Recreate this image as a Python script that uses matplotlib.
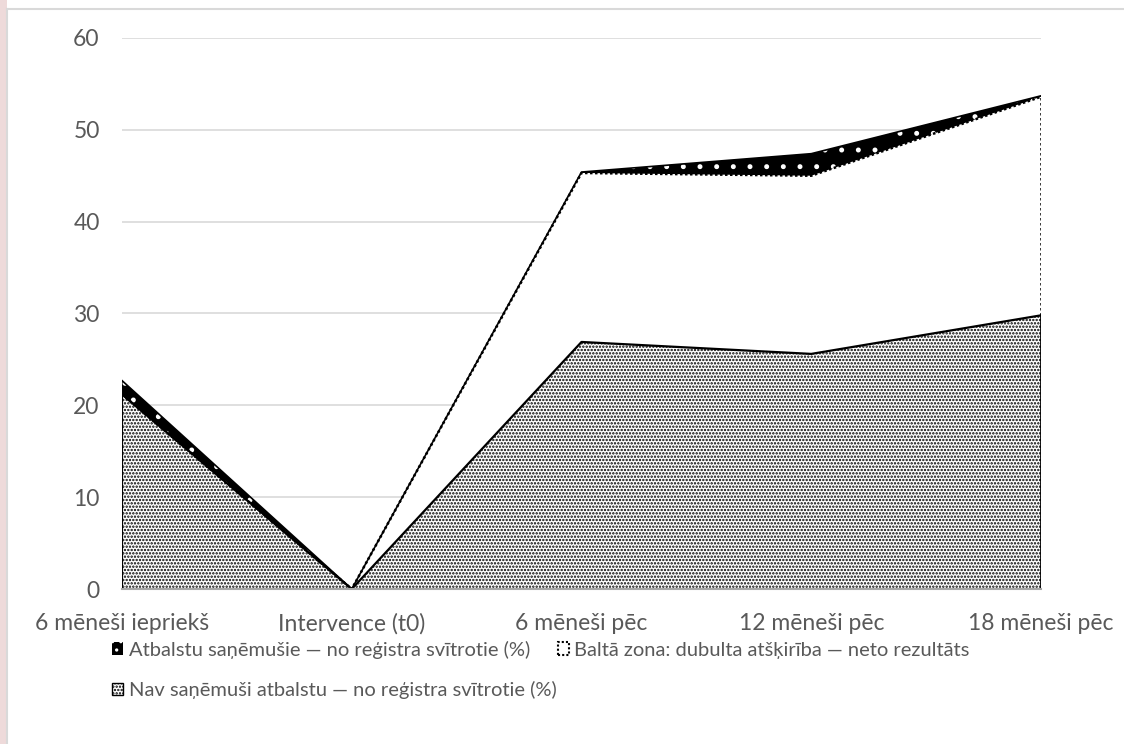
import matplotlib
matplotlib.use("Agg")
import matplotlib.pyplot as plt
from matplotlib.patches import Patch, Rectangle
from matplotlib.lines import Line2D

plt.rcParams["font.family"] = ["Lato", "DejaVu Sans"]
plt.rcParams["hatch.linewidth"] = 1.15

categories = ["6 mēneši iepriekš", "Intervence (t0)", "6 mēneši pēc",
              "12 mēneši pēc", "18 mēneši pēc"]
# share struck off the register, %
non_recipients = [21.2, 0, 26.9, 25.6, 29.8]
net_result = [0, 0, 18.4, 19.4, 23.8]      # white zone height above non-recipients
recipients = [22.7, 0, 45.4, 47.4, 53.7]

labels = ["Atbalstu saņēmušie — no reģistra svītrotie (%)",
          "Baltā zona: dubulta atšķirība — neto rezultāts",
          "Nav saņēmuši atbalstu — no reģistra svītrotie (%)"]

text_col = "#595959"
grid_col = "#d9d9d9"
fs = 16.5

x = list(range(len(categories)))
white_top = [a + b for a, b in zip(non_recipients, net_result)]

fig = plt.figure(figsize=(11.24, 7.44), dpi=100)
ax = fig.add_axes([0.1085, 0.2083, 0.8177, 0.7407])

# dotted area: non-recipients
ax.fill_between(x, 0, non_recipients, facecolor="white", edgecolor="black",
                hatch=".....", linewidth=0, zorder=2)
# white zone between the two groups
ax.fill_between(x, non_recipients, white_top, facecolor="white",
                linewidth=0, zorder=2)
# black band up to recipients
ax.fill_between(x, white_top, recipients, facecolor="black", edgecolor="white",
                hatch=".", linewidth=0, zorder=2)

# outlines
ax.plot(x, non_recipients, color="black", lw=1.6, zorder=4)
ax.plot([x[0], x[0]], [0, non_recipients[0]], color="black", lw=1.6, zorder=4)
ax.plot([x[-1], x[-1]], [0, non_recipients[-1]], color="black", lw=2.0, zorder=4)
ax.plot(x, white_top, color="black", lw=1.8, ls=(0, (1, 1)), zorder=4)
ax.plot([x[-1], x[-1]], [non_recipients[-1], white_top[-1]], color="black",
        lw=1.8, ls=(0, (1, 1)), zorder=4)
ax.plot(x, recipients, color="black", lw=1.2, zorder=4)

ax.set_xlim(0, len(categories) - 1)
ax.set_ylim(0, 60)
ax.set_yticks(range(0, 61, 10))
ax.set_xticks(x)
ax.set_xticklabels(categories)
ax.yaxis.grid(True, color=grid_col, lw=1.2)
ax.set_axisbelow(True)
for s in ["top", "right", "left"]:
    ax.spines[s].set_visible(False)
ax.spines["bottom"].set_color("#a6a6a6")
ax.spines["bottom"].set_linewidth(1.5)
ax.spines["bottom"].set_zorder(5)
ax.tick_params(axis="both", length=0, labelsize=fs, colors=text_col)
ax.tick_params(axis="x", pad=17)
ax.tick_params(axis="y", pad=16)

handles = [
    Patch(facecolor="black", edgecolor="white", hatch="..", linewidth=0),
    Patch(facecolor="white", edgecolor="black", linestyle=(0, (1, 1)), linewidth=1.5),
    Patch(facecolor="white", edgecolor="black", hatch=".....", linewidth=1),
]
leg_kw = dict(loc="upper left", frameon=False, fontsize=14.5, labelcolor=text_col,
              handlelength=0.55, handleheight=0.55, handletextpad=0.25,
              borderaxespad=0, borderpad=0)
# legend entries flow row by row
fig.legend(handles[:2], labels[:2], bbox_to_anchor=(0.1, 0.139), ncol=2,
           columnspacing=1.4, **leg_kw)
fig.legend(handles[2:], labels[2:], bbox_to_anchor=(0.1, 0.085), **leg_kw)

# page edge decorations
fig.add_artist(Rectangle((0, 0), 7 / 1124, 1, transform=fig.transFigure,
                         facecolor="#eedada", edgecolor="none"))
fig.add_artist(Line2D([7 / 1124, 7 / 1124], [0, 1 - 9 / 744], transform=fig.transFigure,
                      color=grid_col, lw=1.5))
fig.add_artist(Line2D([7 / 1124, 1], [1 - 9 / 744, 1 - 9 / 744], transform=fig.transFigure,
                      color=grid_col, lw=1.5))

fig.savefig("out.png", dpi=100)
